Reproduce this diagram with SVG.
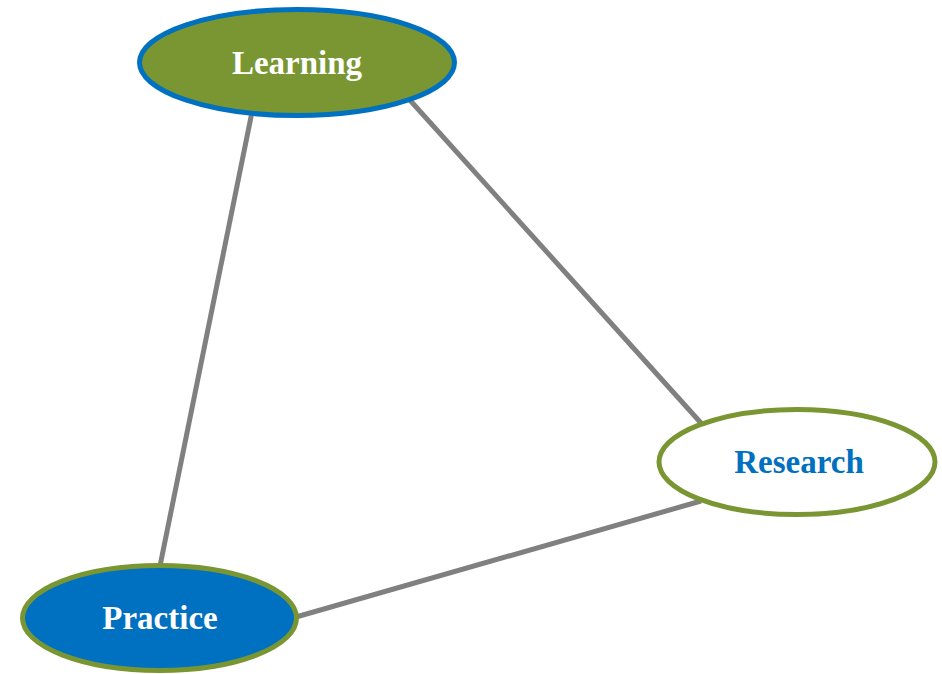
<svg xmlns="http://www.w3.org/2000/svg" width="942" height="674" viewBox="0 0 942 674">
<style>
.edge{stroke:#808080;stroke-width:5;fill:none}
.lbl{font-family:"Liberation Serif","Times New Roman",serif;font-weight:bold;font-size:33px;text-anchor:middle}
</style>
<rect width="942" height="674" fill="#ffffff"/>
<g id="connectors">
<line class="edge" x1="252" y1="112" x2="160" y2="566"/>
<line class="edge" x1="408" y1="98" x2="701" y2="423"/>
<line class="edge" x1="296" y1="617" x2="701" y2="501"/>
</g>
<g id="learning">
<ellipse cx="297" cy="62.5" rx="157.5" ry="53" fill="#7A9632" stroke="#0070C0" stroke-width="5"/>
<text class="lbl" x="297" y="74" fill="#ffffff">Learning</text>
</g>
<g id="research">
<ellipse cx="797" cy="462" rx="138" ry="52.5" fill="#ffffff" stroke="#7A9632" stroke-width="5"/>
<text class="lbl" x="799" y="473" fill="#0070C0">Research</text>
</g>
<g id="practice">
<ellipse cx="159.5" cy="618" rx="137" ry="52.5" fill="#0070C0" stroke="#7A9632" stroke-width="5"/>
<text class="lbl" x="160" y="629" fill="#ffffff">Practice</text>
</g>
</svg>
